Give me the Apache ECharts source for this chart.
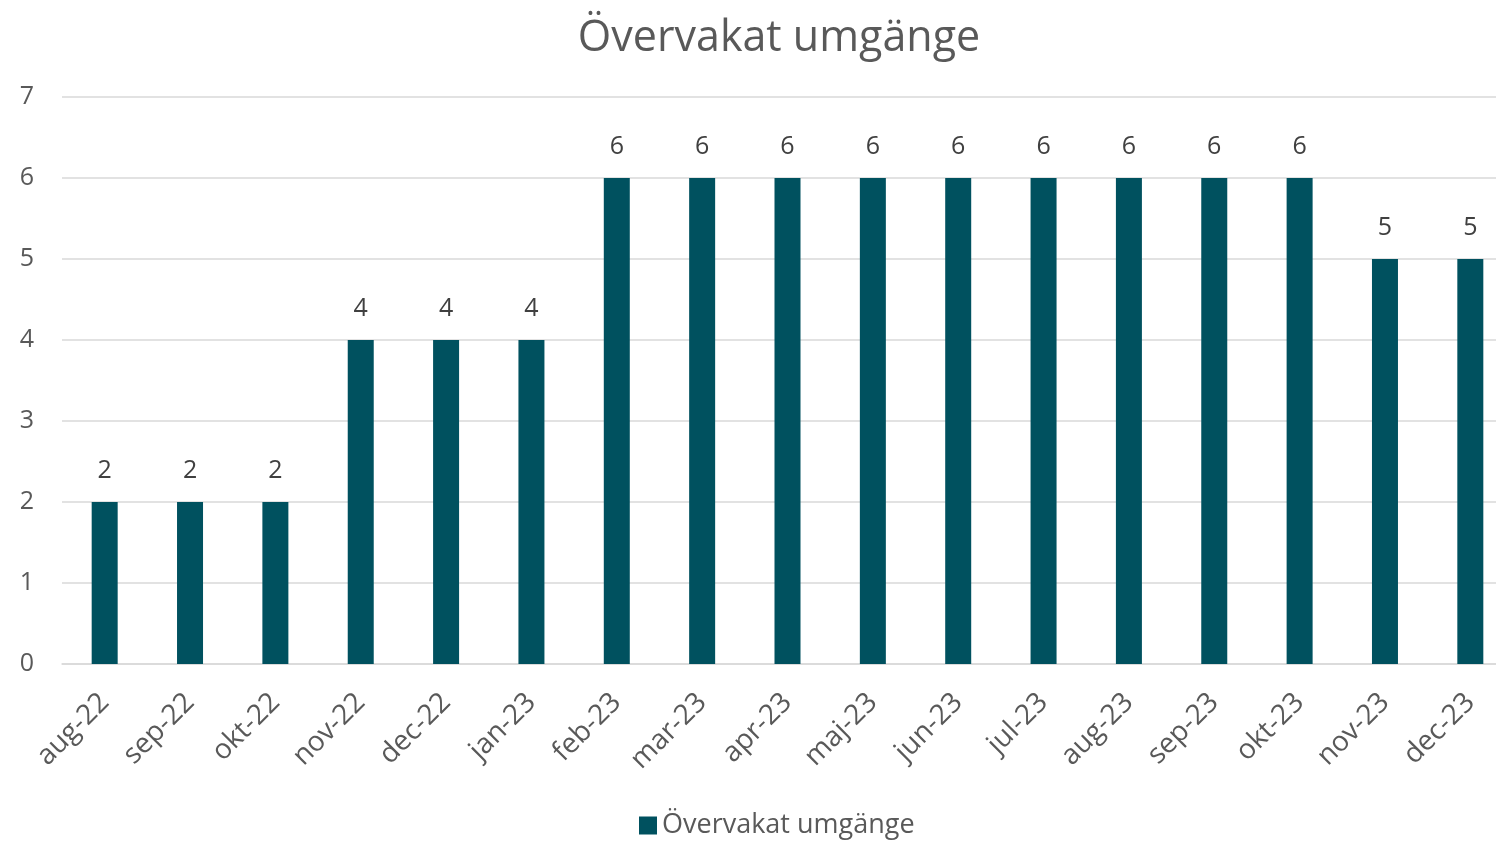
<!DOCTYPE html>
<html>
<head>
<meta charset="utf-8">
<script src="https://cdn.jsdelivr.net/npm/echarts@6/dist/echarts.min.js"></script>
<style>
  html, body { margin: 0; padding: 0; background: #fff; overflow: hidden; }
  #chart { width: 1513px; height: 844px; }
</style>
</head>
<body>
<div id="chart"></div>
<script>
let months = ['aug-22', 'sep-22', 'okt-22', 'nov-22', 'dec-22', 'jan-23', 'feb-23', 'mar-23', 'apr-23',
  'maj-23', 'jun-23', 'jul-23', 'aug-23', 'sep-23', 'okt-23', 'nov-23', 'dec-23'];
let counts = [2, 2, 2, 4, 4, 4, 6, 6, 6, 6, 6, 6, 6, 6, 6, 5, 5];
let seriesName = 'Övervakat umgänge';

let font = '"Open Sans", "Liberation Sans", sans-serif';

// the plot runs past the right edge of the window, so the canvas is a bit wider than it
let chart = echarts.init(document.getElementById('chart'));
chart.setOption({
  animation: false,
  textStyle: { fontFamily: font },
  title: {
    text: 'Övervakat umgänge',
    left: 774,
    top: 12,
    textAlign: 'center',
    textStyle: { fontFamily: font, fontSize: 43, fontWeight: 'normal', color: '#595959' }
  },
  legend: {
    top: 807,
    left: 634,
    itemWidth: 18,
    itemHeight: 18,
    itemGap: 6,
    icon: 'rect',
    textStyle: { fontFamily: font, fontSize: 27, color: '#595959' },
    data: [seriesName]
  },
  grid: { left: 62, right: 0, top: 97, bottom: 180 },
  xAxis: {
    type: 'category',
    data: months,
    axisLine: { lineStyle: { color: '#d9d9d9', width: 1.5 } },
    axisTick: { show: false },
    axisLabel: { rotate: 45, fontSize: 28, color: '#595959', margin: 34, fontFamily: font }
  },
  yAxis: {
    type: 'value',
    min: 0,
    max: 7,
    interval: 1,
    axisLine: { show: false },
    axisTick: { show: false },
    splitLine: { lineStyle: { color: '#d9d9d9', width: 1.5 } },
    axisLabel: { fontSize: 25, color: '#595959', margin: 28, fontFamily: font }
  },
  series: [{
    name: seriesName,
    type: 'bar',
    data: counts,
    barWidth: 26,
    itemStyle: { color: '#00515f' },
    label: { show: true, position: 'top', distance: 19, fontSize: 25, color: '#404040', fontFamily: font }
  }]
});
</script>
</body>
</html>
